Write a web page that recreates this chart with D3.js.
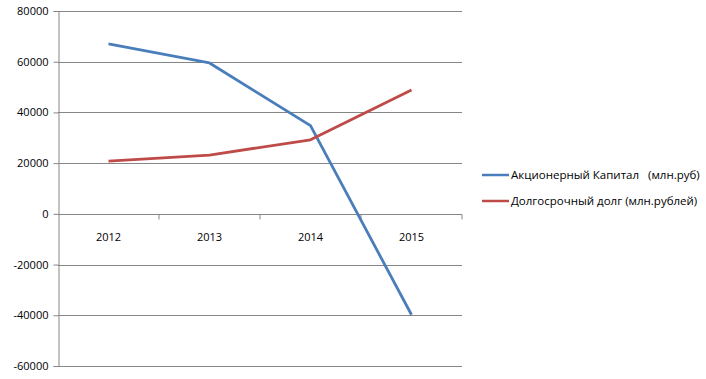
<!DOCTYPE html>
<html><head><meta charset="utf-8">
<script src="https://cdn.jsdelivr.net/npm/d3@7"></script>
<style>body{margin:0;background:#fff}svg{display:block}text{font-family:"Open Sans","Noto Sans",sans-serif;font-size:11px;fill:#000}</style>
</head><body><svg id="c" width="706" height="379"></svg>
<script>
const categories = ["2012","2013","2014","2015"];
const equity = [67000, 59500, 34800, -39800];
const debt = [20800, 23200, 29200, 48800];
const seriesNames = ["Акционерный Капитал   (млн.руб)", "Долгосрочный долг (млн.рублей)"];
const yTicks = [80000,60000,40000,20000,0,-20000,-40000,-60000];
const colors = ["#4A7EBB", "#BE4B48"];

const svg = d3.select("#c");
const L = 58, R = 462, T = 11, B = 366;
const x = d3.scaleBand().domain(categories).range([L, R]);
const y = d3.scaleLinear().domain([-60000, 80000]).range([B, T]);

// gridlines
svg.append("g").selectAll("line").data(yTicks).join("line")
  .attr("x1", L).attr("x2", R).attr("y1", d => Math.round(y(d)) + 0.5).attr("y2", d => Math.round(y(d)) + 0.5)
  .attr("stroke", "#868686").attr("stroke-width", 1);
// y axis
const ya = svg.append("g").attr("transform", `translate(${L + 0.5},0)`)
  .call(d3.axisLeft(y).tickValues(yTicks).tickSize(5).tickPadding(5).tickFormat(d => String(d)));
ya.select(".domain").attr("stroke", "#868686");
ya.selectAll(".tick line").attr("stroke", "#868686");
ya.selectAll(".tick text").style("font-family", '"Open Sans","Noto Sans",sans-serif').style("font-size", "11px").attr("fill", "#000");
// x axis at zero
const y0 = Math.round(y(0)) + 0.5;
svg.append("g").selectAll("line").data(categories.map(c => x(c) + x.bandwidth()))
  .join("line").attr("x1", d => d).attr("x2", d => d).attr("y1", y0).attr("y2", y0 + 5)
  .attr("stroke", "#868686");
svg.append("g").selectAll("text").data(categories).join("text")
  .attr("x", d => x(d) + x.bandwidth() / 2).attr("y", y0 + 26).attr("text-anchor", "middle").text(d => d);

const line = d3.line().x((d, i) => x(categories[i]) + x.bandwidth() / 2).y(d => y(d));
[equity, debt].forEach((s, i) => {
  svg.append("path").attr("d", line(s)).attr("fill", "none").attr("stroke", colors[i])
    .attr("stroke-width", 2.8).attr("stroke-linejoin", "round");
});

// legend
const lg = svg.append("g");
seriesNames.forEach((n, i) => {
  const yy = 175 + i * 26;
  lg.append("line").attr("x1", 482).attr("x2", 509).attr("y1", yy).attr("y2", yy)
    .attr("stroke", colors[i]).attr("stroke-width", 2.5);
  lg.append("text").attr("x", 511).attr("y", yy + 4).attr("xml:space", "preserve")
    .style("white-space", "pre").style("font-size", "11.5px").text(n);
});
</script></body></html>
